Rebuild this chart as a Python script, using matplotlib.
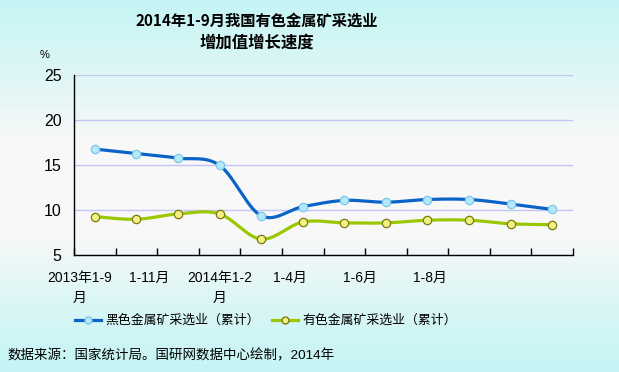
import numpy as np
import matplotlib
matplotlib.use("Agg")
import matplotlib.pyplot as plt
from matplotlib.colors import to_rgb
from matplotlib.lines import Line2D

categories = ['2013年1-9月', '1-10月', '1-11月', '1-12月', '2014年1-2月', '1-3月',
              '1-4月', '1-5月', '1-6月', '1-7月', '1-8月', '1-9月']
ferrous = [16.8, 16.3, 15.8, 15.0, 9.4, 10.4, 11.1, 10.9, 11.2, 11.2, 10.7, 10.1]
nonferrous = [9.3, 9.0, 9.6, 9.6, 6.8, 8.7, 8.6, 8.6, 8.9, 8.9, 8.5, 8.4]
xtick_labels = ['2013年1-9\n月', '1-11月', '2014年1-2\n月', '1-4月', '1-6月', '1-8月']
series_names = ['黑色金属矿采选业（累计）', '有色金属矿采选业（累计）']
yticks = [5, 10, 15, 20, 25]

SANS = ['Liberation Sans', 'Noto Sans CJK SC', 'DejaVu Sans']
plt.rcParams['font.family'] = SANS

W, H = 619, 372
fig = plt.figure(figsize=(W / 100, H / 100), dpi=100)

# background gradient
bg = fig.add_axes([0, 0, 1, 1], zorder=-10)
stops_y = [0, 30, 75, 140, 235, 300, 372]
stops_c = ['#c4f4f4', '#d0f5f5', '#def6f6', '#f8f8f8', '#f8f8f8', '#dcf6f6', '#c4f4f4']
yy = np.arange(H)
cols = np.array([to_rgb(c) for c in stops_c])
grad = np.stack([np.interp(yy, stops_y, cols[:, k]) for k in range(3)], axis=1)
img = np.repeat(grad[:, None, :], 10, axis=1)
bg.imshow(img, aspect='auto', extent=[0, 1, 0, 1], origin='upper')
bg.axis('off')

ax = fig.add_axes([74 / W, 1 - 255.3 / H, (573 - 74) / W, 180 / H])
ax.set_facecolor('none')


def smooth(xs, ys, n=30):
    xs = np.asarray(xs, float)
    ys = np.asarray(ys, float)
    px = np.concatenate([[xs[0]], xs, [xs[-1]]])
    py = np.concatenate([[ys[0]], ys, [ys[-1]]])
    outx, outy = [], []
    t = np.linspace(0, 1, n)
    for i in range(1, len(px) - 2):
        p0, p1, p2, p3 = py[i - 1], py[i], py[i + 1], py[i + 2]
        q0, q1, q2, q3 = px[i - 1], px[i], px[i + 1], px[i + 2]
        c1y = p1 + (p2 - p0) / 6
        c2y = p2 - (p3 - p1) / 6
        c1x = q1 + (q2 - q0) / 6
        c2x = q2 - (q3 - q1) / 6
        bx = (1 - t) ** 3 * q1 + 3 * (1 - t) ** 2 * t * c1x + 3 * (1 - t) * t ** 2 * c2x + t ** 3 * q2
        by = (1 - t) ** 3 * p1 + 3 * (1 - t) ** 2 * t * c1y + 3 * (1 - t) * t ** 2 * c2y + t ** 3 * p2
        outx.append(bx)
        outy.append(by)
    return np.concatenate(outx), np.concatenate(outy)


x = np.arange(len(categories))
blue = '#0a64c8'
green = '#99c800'
for vals, lc, mfc, mec in [(ferrous, blue, '#b4e8fa', '#7cc8ec'),
                           (nonferrous, green, '#f2f282', '#7a7a10')]:
    sx, sy = smooth(x, vals)
    ax.plot(sx, sy, color=lc, lw=2.3, solid_capstyle='round', zorder=3)
    ax.plot(x, vals, ls='none', marker='o', ms=6, mfc=mfc, mec=mec, mew=0.9, zorder=4)

ax.set_xlim(-0.5, len(categories) - 0.5)
ax.set_ylim(5, 25)
ax.set_yticks(yticks)
ax.tick_params(axis='y', length=0, pad=9, labelsize=11.5)
ax.yaxis.grid(True, color='#c4c4f6', lw=1.0)
ax.set_axisbelow(True)

label_pos = [-0.36, 1.30, 3.01, 4.69, 6.38, 8.06]
ax.set_xticks(label_pos)
ax.set_xticklabels(xtick_labels, linespacing=1.55)
ax.set_xticks(np.arange(-0.5, len(categories)), minor=True)
ax.tick_params(axis='x', which='major', length=0, pad=11, labelsize=10)
ax.tick_params(axis='x', which='minor', direction='in', length=5, width=1, color='black')

for s in ['top', 'right']:
    ax.spines[s].set_visible(False)
for s in ['left', 'bottom']:
    ax.spines[s].set_color('black')
    ax.spines[s].set_linewidth(1.0)

# titles
fig.text(257 / W, 1 - 21 / H, '2014年1-9月我国有色金属矿采选业', ha='center', va='center',
         fontsize=11, fontweight='bold', family=['Noto Sans CJK SC', 'DejaVu Sans'])
fig.text(257 / W, 1 - 43 / H, '增加值增长速度', ha='center', va='center',
         fontsize=11.8, fontweight='bold', family=['Noto Sans CJK SC', 'DejaVu Sans'])
fig.text(45 / W, 1 - 55 / H, '%', ha='center', va='center', fontsize=8)

handles = [Line2D([0], [0], color=blue, lw=2.3, marker='o', ms=5, mfc='#b4e8fa', mec='#7cc8ec'),
           Line2D([0], [0], color=green, lw=2.3, marker='o', ms=5, mfc='#f2f282', mec='#7a7a10')]
fig.legend(handles, series_names, loc='center', bbox_to_anchor=(266 / W, 1 - 321 / H), ncol=2,
           frameon=False, fontsize=9.3, handlelength=2.0, handletextpad=0.3, columnspacing=1.0)

fig.text(8 / W, 1 - 356 / H, '数据来源：国家统计局。国研网数据中心绘制，2014年', ha='left', va='center',
         fontsize=9.7)

fig.savefig('out.png', dpi=100)
